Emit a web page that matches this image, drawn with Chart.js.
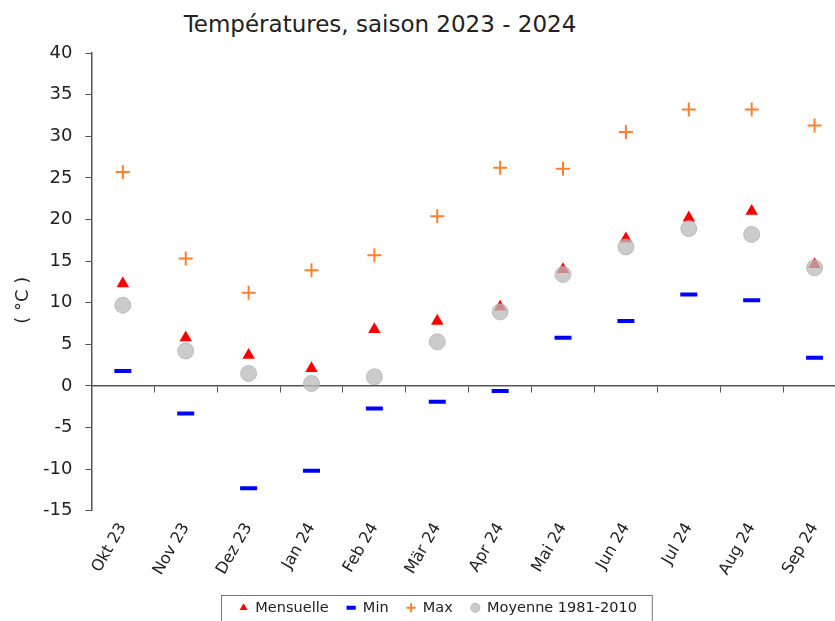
<!DOCTYPE html>
<html>
<head>
<meta charset="utf-8">
<script src="https://cdn.jsdelivr.net/npm/chart.js@4"></script>
<style>
  body { margin: 0; overflow: hidden; background: #fff; }
  #title {
    position: absolute; left: 0; top: 11px; width: 760px; text-align: center;
    font: 23px "DejaVu Sans", Verdana, sans-serif; color: #222;
  }
  #chart { position: absolute; left: 0; top: 0; }
</style>
</head>
<body>
<div id="title">Températures, saison 2023 - 2024</div>
<canvas id="chart" width="850" height="621"></canvas>
<script>
const months = ["Okt 23", "Nov 23", "Dez 23", "Jan 24", "Feb 24", "Mär 24", "Apr 24", "Mai 24", "Jun 24", "Jul 24", "Aug 24", "Sep 24"];
const mensuelle = [12.3, 5.8, 3.7, 2.1, 6.8, 7.8, 9.5, 14.0, 17.7, 20.2, 21.0, 14.6];
const minTemp = [1.8, -3.3, -12.3, -10.2, -2.7, -1.9, -0.6, 5.8, 7.8, 11.0, 10.3, 3.4];
const maxTemp = [25.7, 15.3, 11.2, 13.9, 15.7, 20.4, 26.2, 26.1, 30.5, 33.2, 33.2, 31.3];
const moyenne = [9.7, 4.2, 1.5, 0.3, 1.1, 5.3, 8.9, 13.4, 16.7, 18.9, 18.2, 14.2];
const yTicks = { min: -15, max: 40, step: 5 };
const yTitle = "( °C )";

const font = "DejaVu Sans";

// cadre autour de la légende
const legendBox = {
  id: "legendBox",
  afterDraw(chart) {
    const boxes = chart.legend.legendHitBoxes;
    if (!boxes || !boxes.length) return;
    const left = Math.min(...boxes.map((b) => b.left)) - 18;
    const right = Math.max(...boxes.map((b) => b.left + b.width)) + 15;
    const top = Math.min(...boxes.map((b) => b.top)) - 6;
    const ctx = chart.ctx;
    ctx.save();
    ctx.strokeStyle = "#777";
    ctx.lineWidth = 1;
    ctx.strokeRect(Math.round(left) + 0.5, Math.round(top) + 0.5, right - left, 40);
    ctx.restore();
  },
};

// titre de l'axe y, à gauche des graduations
const yAxisTitle = {
  id: "yAxisTitle",
  afterDraw(chart) {
    const area = chart.chartArea;
    const ctx = chart.ctx;
    ctx.save();
    ctx.translate(23, area.top + (area.bottom - area.top) * 0.54);
    ctx.rotate(-Math.PI / 2);
    ctx.font = `18px "${font}"`;
    ctx.fillStyle = "#222";
    ctx.textAlign = "center";
    ctx.textBaseline = "middle";
    ctx.fillText(yTitle, 0, 0);
    ctx.restore();
  },
};

const datasets = [
  {
    label: "Mensuelle",
    data: mensuelle,
    pointStyle: "triangle",
    pointRadius: 7.2,
    backgroundColor: "#ff0000",
    borderColor: "#ff0000",
    borderWidth: 0,
    order: 2,
  },
  {
    label: "Min",
    data: minTemp,
    pointStyle: "line",
    pointRadius: 8.5,
    backgroundColor: "#0000ff",
    borderColor: "#0000ff",
    borderWidth: 4,
    order: 3,
  },
  {
    label: "Max",
    data: maxTemp,
    pointStyle: "cross",
    pointRadius: 7,
    backgroundColor: "#ff7f2a",
    borderColor: "#ff7f2a",
    borderWidth: 2,
    order: 1,
  },
  {
    label: "Moyenne 1981-2010",
    data: moyenne,
    pointStyle: "circle",
    pointRadius: 8,
    backgroundColor: "rgba(185,185,185,0.75)",
    borderColor: "rgba(175,175,175,0.75)",
    borderWidth: 1,
    order: 0,
  },
];
datasets.forEach((d) => { d.showLine = false; d.pointHoverRadius = d.pointRadius; });

const config = {
  type: "line",
  data: { labels: months, datasets },
  options: {
    responsive: false,
    animation: false,
    layout: { autoPadding: false, padding: { top: 53, right: 4, left: 30, bottom: -4 } },
    plugins: {
      title: { display: false },
      tooltip: { enabled: false },
      legend: {
        position: "bottom",
        labels: {
          usePointStyle: true,
          boxWidth: 9,
          boxHeight: 6.5,
          padding: 18,
          color: "#222",
          font: { family: font, size: 14.5 },
          sort: (a, b) => a.datasetIndex - b.datasetIndex,
        },
      },
    },
    scales: {
      x: {
        type: "category",
        offset: true,
        grid: { display: false, tickLength: 5 },
        border: { display: false },
        ticks: {
          color: "#222",
          font: { family: font, size: 16 },
          minRotation: 60,
          maxRotation: 60,
          padding: 4,
          autoSkip: false,
        },
      },
      x2: {
        type: "category",
        labels: months,
        position: { y: 0 },
        offset: true,
        ticks: { display: false },
        grid: { offset: true, drawOnChartArea: false, drawTicks: true, tickLength: 6, color: "#555", lineWidth: 1 },
        border: { display: true, color: "#555", width: 1.5 },
      },
      y: {
        min: yTicks.min,
        max: yTicks.max,
        ticks: { stepSize: yTicks.step, color: "#222", font: { family: font, size: 18 }, padding: 13 },
        grid: { drawOnChartArea: false, drawTicks: true, tickLength: 6, color: "#555" },
        border: { display: true, color: "#555", width: 1.5 },
      },
    },
  },
  plugins: [legendBox, yAxisTitle],
};

new Chart(document.getElementById("chart"), config);
</script>
</body>
</html>
